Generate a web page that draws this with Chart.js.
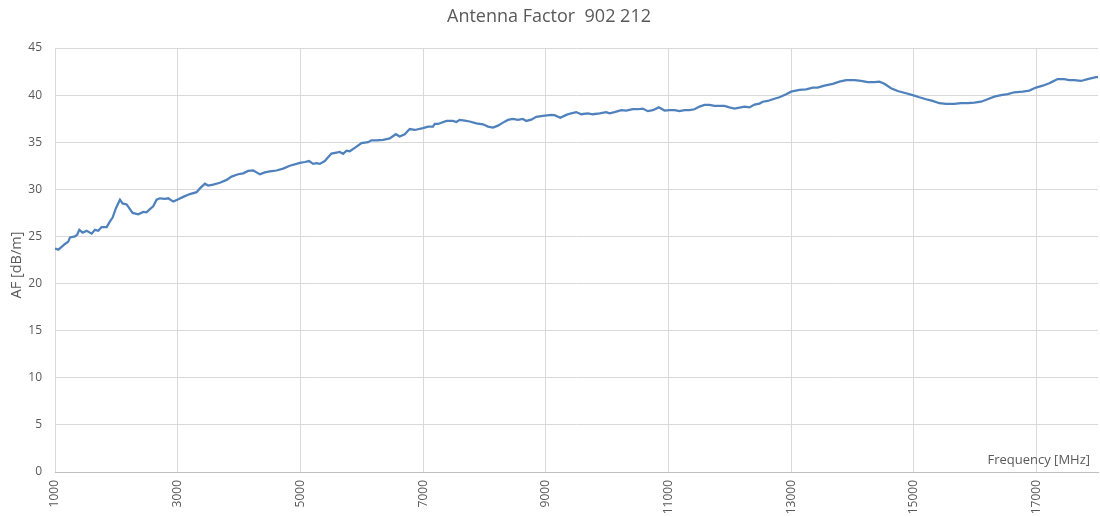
<!DOCTYPE html>
<html>
<head>
<meta charset="utf-8">
<script src="https://cdn.jsdelivr.net/npm/chart.js@4/dist/chart.umd.min.js"></script>
<style>
  html, body { margin: 0; padding: 0; background: #ffffff; }
  #wrap { width: 1100px; height: 517px; position: relative; }
</style>
</head>
<body>
<div id="wrap"><canvas id="c" width="1100" height="517"></canvas></div>
<script>
const chartTitle = "Antenna Factor  902 212";
const xAxisTitle = "Frequency [MHz]";
const yAxisTitle = "AF [dB/m]";
const xTickValues = [1000, 3000, 5000, 7000, 9000, 11000, 13000, 15000, 17000];
const yTickStep = 5;

const freqMHz = [
  1000, 1054, 1108, 1163, 1217, 1244, 1326, 1363, 1396, 1451, 1516, 1598, 1651, 1705, 1760, 1842,
  1896, 1939, 1993, 2059, 2102, 2167, 2210, 2265, 2357, 2438, 2493, 2547, 2601, 2656, 2710, 2791,
  2845, 2927, 2992, 3090, 3199, 3308, 3362, 3443, 3497, 3578, 3687, 3796, 3878, 3985, 4067, 4148,
  4230, 4285, 4339, 4420, 4502, 4610, 4718, 4827, 4936, 4990, 5072, 5141, 5207, 5262, 5316, 5397,
  5451, 5506, 5588, 5642, 5696, 5751, 5805, 5886, 5995, 6103, 6158, 6239, 6347, 6456, 6554, 6619,
  6700, 6782, 6863, 6999, 7080, 7161, 7189, 7243, 7380, 7487, 7542, 7596, 7678, 7759, 7868, 7976,
  8057, 8138, 8220, 8301, 8383, 8464, 8545, 8627, 8681, 8763, 8844, 8953, 9089, 9143, 9235, 9333,
  9414, 9495, 9577, 9685, 9767, 9876, 9984, 10039, 10120, 10229, 10310, 10419, 10500, 10581, 10662, 10744,
  10842, 10935, 11016, 11098, 11179, 11260, 11342, 11423, 11505, 11586, 11668, 11749, 11912, 11993, 12075, 12156,
  12238, 12319, 12401, 12482, 12536, 12617, 12699, 12808, 12917, 12998, 13134, 13242, 13351, 13432, 13541, 13677,
  13785, 13894, 14030, 14138, 14247, 14355, 14437, 14518, 14627, 14735, 14870, 14979, 15088, 15197, 15305, 15414,
  15523, 15658, 15767, 15876, 15984, 16093, 16201, 16310, 16419, 16527, 16636, 16771, 16880, 16989, 17098, 17206,
  17260, 17342, 17450, 17532, 17614, 17722, 17831, 17967, 18000
];

const afDbPerM = [
  23.7, 23.6, 23.9, 24.2, 24.45, 24.9, 25.0, 25.2, 25.7, 25.4, 25.6, 25.3, 25.7, 25.6, 26.0, 26.0,
  26.6, 27.0, 28.0, 28.9, 28.5, 28.4, 28.0, 27.5, 27.35, 27.6, 27.55, 27.9, 28.2, 28.9, 29.05, 29.0,
  29.05, 28.7, 28.9, 29.2, 29.5, 29.7, 30.1, 30.6, 30.4, 30.5, 30.7, 31.0, 31.35, 31.6, 31.7, 31.95,
  32.0, 31.8, 31.6, 31.8, 31.9, 32.0, 32.2, 32.5, 32.7, 32.8, 32.9, 33.0, 32.7, 32.77, 32.7, 33.0,
  33.4, 33.8, 33.9, 33.97, 33.76, 34.1, 34.04, 34.4, 34.9, 35.0, 35.2, 35.2, 35.24, 35.4, 35.85, 35.6,
  35.85, 36.4, 36.3, 36.5, 36.66, 36.66, 36.94, 36.94, 37.26, 37.26, 37.15, 37.37, 37.3, 37.2, 37.0, 36.9,
  36.66, 36.55, 36.76, 37.08, 37.37, 37.47, 37.37, 37.47, 37.26, 37.4, 37.7, 37.8, 37.9, 37.87, 37.6, 37.9,
  38.07, 38.2, 37.97, 38.07, 37.97, 38.07, 38.2, 38.07, 38.2, 38.4, 38.36, 38.5, 38.5, 38.57, 38.3, 38.4,
  38.7, 38.36, 38.4, 38.4, 38.3, 38.4, 38.4, 38.5, 38.78, 38.96, 38.96, 38.85, 38.85, 38.7, 38.57, 38.67,
  38.78, 38.7, 39.0, 39.1, 39.3, 39.38, 39.56, 39.77, 40.1, 40.37, 40.55, 40.62, 40.8, 40.8, 41.0, 41.2,
  41.43, 41.6, 41.6, 41.5, 41.37, 41.37, 41.43, 41.2, 40.73, 40.44, 40.2, 40.0, 39.77, 39.56, 39.38, 39.14,
  39.06, 39.06, 39.14, 39.14, 39.2, 39.3, 39.56, 39.84, 40.0, 40.1, 40.3, 40.37, 40.48, 40.8, 41.0, 41.26,
  41.43, 41.7, 41.7, 41.6, 41.6, 41.5, 41.7, 41.9, 41.9
];

const points = freqMHz.map((f, i) => ({ x: f, y: afDbPerM[i] }));
const FONT = "'Open Sans', 'Liberation Sans', sans-serif";
const TXT = '#595959';

const axisTitlePlugin = {
  id: 'axisTitles',
  afterDraw(chart) {
    const { ctx, chartArea } = chart;
    ctx.save();
    ctx.fillStyle = TXT;
    ctx.font = '13px ' + FONT;
    ctx.textAlign = 'right';
    ctx.textBaseline = 'middle';
    ctx.fillText(xAxisTitle, chartArea.right - 8, chartArea.bottom - 12);
    ctx.translate(17, (chartArea.top + chartArea.bottom) / 2 + 5);
    ctx.rotate(-Math.PI / 2);
    ctx.font = '14.5px ' + FONT;
    ctx.textAlign = 'center';
    ctx.fillText(yAxisTitle, 0, 0);
    ctx.restore();
  }
};

new Chart(document.getElementById('c'), {
  type: 'line',
  data: {
    datasets: [{
      data: points,
      borderColor: 'rgb(79,129,189)',
      borderWidth: 2.25,
      pointRadius: 0,
      tension: 0,
      fill: false
    }]
  },
  options: {
    responsive: false,
    animation: false,
    layout: { padding: { left: 0, right: 2, top: 0, bottom: 0 } },
    plugins: {
      legend: { display: false },
      tooltip: { enabled: false },
      title: {
        display: true,
        text: chartTitle,
        color: TXT,
        font: { family: FONT, size: 18, weight: 'normal', lineHeight: 1.2 },
        padding: { top: 6, bottom: 20.4 }
      }
    },
    scales: {
      x: {
        type: 'linear',
        min: 1000,
        max: 18000,
        afterBuildTicks(scale) { scale.ticks = xTickValues.map(v => ({ value: v })); },
        afterFit(scale) { scale.height = 45; },
        ticks: {
          color: TXT,
          font: { family: FONT, size: 12 },
          minRotation: 90,
          maxRotation: 90,
          padding: 8,
          autoSkip: false,
          callback: v => String(v)
        },
        grid: { color: '#d9d9d9', lineWidth: 1, drawTicks: false },
        border: { color: '#bfbfbf', width: 1 }
      },
      y: {
        min: 0,
        max: 45,
        afterFit(scale) { scale.width = 55; },
        ticks: {
          stepSize: yTickStep,
          color: TXT,
          font: { family: FONT, size: 12 },
          padding: 13
        },
        grid: { color: '#d9d9d9', lineWidth: 1, drawTicks: false },
        border: { display: false }
      }
    }
  },
  plugins: [axisTitlePlugin]
});
</script>
</body>
</html>
